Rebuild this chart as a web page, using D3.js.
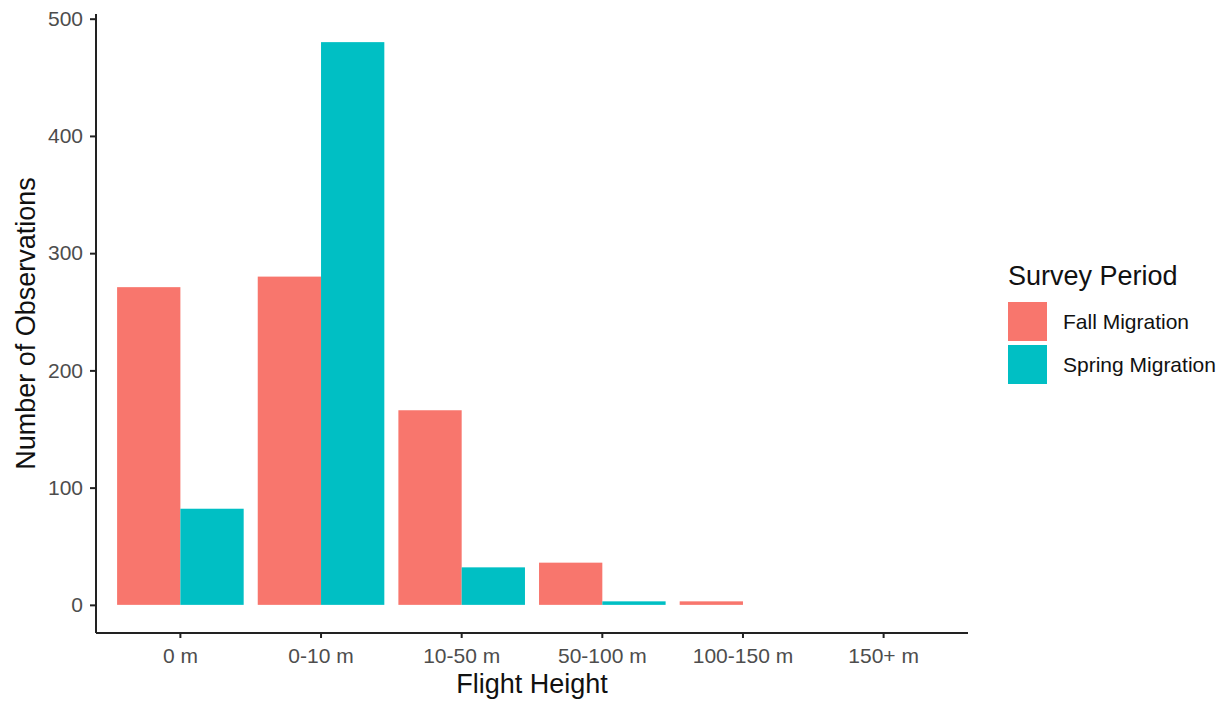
<!DOCTYPE html>
<html>
<head>
<meta charset="utf-8">
<script src="https://cdn.jsdelivr.net/npm/d3@7"></script>
<style>
  html, body { margin: 0; padding: 0; background: #fff; }
  svg { display: block; font-family: "Liberation Sans", Arial, sans-serif; }
</style>
</head>
<body>
<svg id="chart" width="1230" height="704"></svg>
<script>
const categories = ["0 m", "0-10 m", "10-50 m", "50-100 m", "100-150 m", "150+ m"];
const seriesNames = ["Fall Migration", "Spring Migration"];
const fallValues = [271, 280, 166, 36, 3, 0];
const springValues = [82, 480, 32, 3, 0, 0];
const yTicks = [0, 100, 200, 300, 400, 500];
const colors = ["#F8766D", "#00BFC4"];

(function () {
const svg = d3.select("#chart");
const pL = 96, pR = 968, pT = 14, pB = 633;
const FONT = "Liberation Sans, Arial, sans-serif";

// ggplot-like expansion
const yMaxData = d3.max([...fallValues, ...springValues]);
const yPad = yMaxData * 0.05;
const y = d3.scaleLinear().domain([-yPad, yMaxData + yPad]).range([pB, pT]);

const n = categories.length;
const unit = (pR - pL) / (n - 1 + 1.2);
const x = d3.scaleBand().domain(categories)
  .range([pL + 0.1 * unit, pR - 0.1 * unit]).paddingInner(0).paddingOuter(0);
const x1 = d3.scaleBand().domain(seriesNames).range([0, x.bandwidth() * 0.9]);

const data = categories.map((c, i) => ({cat: c, vals: [fallValues[i], springValues[i]]}));

const g = svg.append("g");
data.forEach(d => {
  d.vals.forEach((v, j) => {
    if (v <= 0) return;
    g.append("rect")
      .attr("x", x(d.cat) + x.bandwidth() * 0.05 + x1(seriesNames[j]))
      .attr("y", y(v))
      .attr("width", x1.bandwidth())
      .attr("height", y(0) - y(v))
      .attr("fill", colors[j]);
  });
});

// Y axis
const yAxis = d3.axisLeft(y).tickValues(yTicks).tickSize(6).tickPadding(7);
const yg = svg.append("g").attr("transform", `translate(${pL},0)`).call(yAxis);
yg.select(".domain").attr("stroke", "#222").attr("stroke-width", 2).attr("d", `M0,${pT}V${pB}`);
yg.selectAll(".tick line").attr("stroke", "#222").attr("stroke-width", 2);
yg.selectAll(".tick text").attr("fill", "#4d4d4d").attr("font-size", 21).attr("font-family", FONT);

// X axis
const xAxis = d3.axisBottom(x).tickSize(5).tickPadding(10).tickSizeOuter(0);
const xg = svg.append("g").attr("transform", `translate(0,${pB})`).call(xAxis);
xg.select(".domain").attr("stroke", "#222").attr("stroke-width", 2).attr("d", `M${pL},0H${pR}`);
xg.selectAll(".tick line").attr("stroke", "#222").attr("stroke-width", 2);
xg.selectAll(".tick text").attr("fill", "#4d4d4d").attr("font-size", 21).attr("font-family", FONT);

// Axis titles
svg.append("text").attr("x", (pL + pR) / 2).attr("y", 693)
  .attr("text-anchor", "middle").attr("font-size", 27).attr("fill", "#111")
  .text("Flight Height");
svg.append("text")
  .attr("transform", `translate(35,${(pT + pB) / 2}) rotate(-90)`)
  .attr("text-anchor", "middle").attr("font-size", 27).attr("fill", "#111")
  .text("Number of Observations");

// Legend
const lg = svg.append("g").attr("transform", "translate(1008,0)");
lg.append("text").attr("x", 0).attr("y", 285).attr("font-size", 27).attr("fill", "#111").text("Survey Period");
seriesNames.forEach((s, i) => {
  lg.append("rect").attr("x", 0).attr("y", 302 + i * 43).attr("width", 39).attr("height", 39).attr("fill", colors[i]);
  lg.append("text").attr("x", 55).attr("y", 322 + i * 43).attr("dy", "0.35em")
    .attr("font-size", 21).attr("fill", "#111").text(s);
});
})();
</script>
</body>
</html>
